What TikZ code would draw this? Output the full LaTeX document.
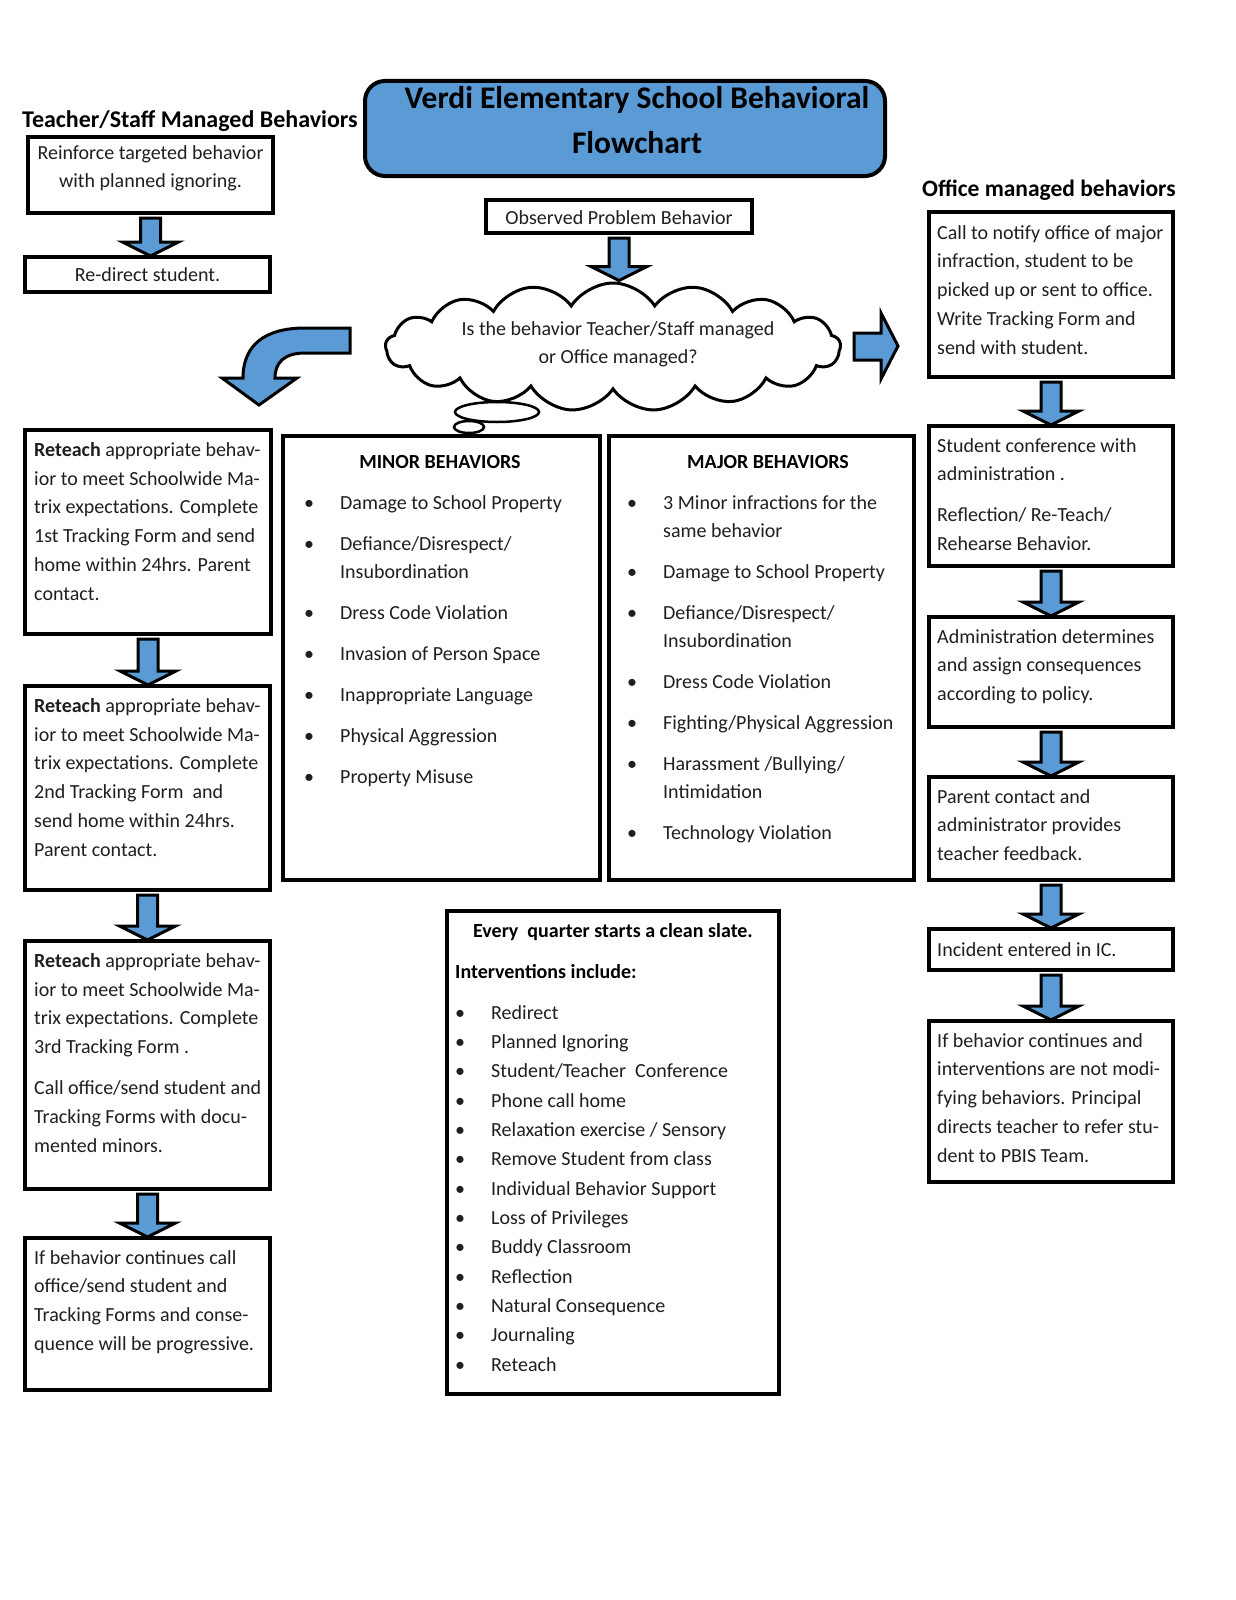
\documentclass[tikz,border=0pt]{standalone}
\usepackage{fontspec}
\setmainfont{Carlito}
\usetikzlibrary{shapes.symbols,calc}
\definecolor{myblue}{HTML}{5B9BD5}
\newcommand\bul{\makebox[36pt][l]{•}}
\newcommand\ind{\makebox[36pt]{}}
\newcommand\darrow[2]{\draw[barrow] let \p1=(#1.south), \p2=(#2.north) in
  (\x1-10pt,\y1-5pt) -- (\x1+10pt,\y1-5pt) -- (\x1+10pt,\y2+15pt) -- (\x1+28pt,\y2+15pt)
  -- (\x1,\y2+1pt) -- (\x1-28pt,\y2+15pt) -- (\x1-10pt,\y2+15pt) -- cycle;}
\begin{document}
\begin{tikzpicture}[x=1pt,y=-1pt,
  box/.style={draw, line width=3.5pt, anchor=north west, inner sep=0pt, outer sep=0pt},
  txt/.style={font=\fontsize{20}{28.8}\selectfont, align=left, inner sep=0pt, anchor=north west, yshift=15pt, text=black!88, execute at begin node={\rule{0pt}{15pt}}},
  ctr/.style={txt, align=center, anchor=north},
  listtxt/.style={txt, font=\fontsize{20}{28}\selectfont},
  head/.style={font=\fontsize{24}{28}\selectfont\bfseries, inner sep=0pt, anchor=base west},
  barrow/.style={draw=black, fill=myblue, line width=3pt, line join=miter},
]
\fill[white] (0,0) rectangle (1236,1600);
\useasboundingbox (0,0) rectangle (1236,1600);

% title
\node[draw, line width=4pt, fill=myblue, rounded corners=20pt, minimum width=520, minimum height=95, inner sep=0pt, anchor=north west] (title) at (363,79) {};
\node[font=\fontsize{31.5}{45}\selectfont\bfseries, align=center, inner sep=0pt, anchor=north, yshift=22pt, execute at begin node={\rule{0pt}{22pt}}] (titletxt) at (637,108) {Verdi Elementary School Behavioral\\Flowchart};

% headers
\node[head] (hleft) at (22,128) {Teacher/Staff Managed Behaviors};
\node[head, font=\fontsize{23.5}{28}\selectfont\bfseries] (hright) at (922,196) {Office managed behaviors};

% top-left boxes
\node[box, minimum width=245, minimum height=76] (B1) at (28,137) {};
\node[ctr] (B1t) at (150.5,160) {Reinforce targeted behavior\\with planned ignoring.};
\node[box, minimum width=245, minimum height=35] (B2) at (25,257) {};
\node[ctr] (B2t) at (147.5,281) {Re-direct student.};
\darrow{B1}{B2}

% observed
\node[box, minimum width=266, minimum height=33] (obs) at (486,200) {};
\node[ctr] (obst) at (619,224) {Observed Problem Behavior};

% cloud
\node[cloud, draw, line width=3pt, cloud puffs=17, cloud puff arc=115, aspect=3.6, minimum width=455, minimum height=128, inner sep=0pt] (cloud) at (613,347) {};
\node[ctr] (cloudt) at (618,336) {Is the behavior Teacher/Staff managed\\or Office managed?};
\draw[line width=2.5pt] (497,412) ellipse [x radius=42pt, y radius=10pt];
\draw[line width=2.5pt] (469,427) ellipse [x radius=15pt, y radius=6pt];
\darrow{obs}{cloud}

% curved arrow
\draw[barrow, line join=miter]
  (350,328) -- (305,328) .. controls (265,328) and (243,345) .. (243,378)
  -- (222,378) -- (259,405) -- (297,378) -- (275,378)
  .. controls (275,362) and (285,353) .. (305,353) -- (350,353) -- cycle;
% right arrow
\draw[barrow]
  (854,333) -- (881,333) -- (881,313) -- (898,346) -- (881,379) -- (881,360) -- (854,360) -- cycle;

% left column
\node[box, minimum width=246, minimum height=204] (L1) at (25,430) {};
\node[txt] (L1t) at (34,457) {\textbf{Reteach} appropriate behav-\\ior to meet Schoolwide Ma-\\trix expectations. Complete\\1st Tracking Form and send\\home within 24hrs. Parent\\contact.};
\node[box, minimum width=245, minimum height=204] (L2) at (25,686) {};
\node[txt] (L2t) at (34,713) {\textbf{Reteach} appropriate behav-\\ior to meet Schoolwide Ma-\\trix expectations. Complete\\2nd Tracking Form\ \ and\\send home within 24hrs.\\Parent contact.};
\node[box, minimum width=245, minimum height=248] (L3) at (25,941) {};
\node[txt] (L3t) at (34,968) {\textbf{Reteach} appropriate behav-\\ior to meet Schoolwide Ma-\\trix expectations. Complete\\3rd Tracking Form .\\[12pt]Call office/send student and\\Tracking Forms with docu-\\mented minors.};
\node[box, minimum width=245, minimum height=152] (L4) at (25,1238) {};
\node[txt] (L4t) at (34,1265) {If behavior continues call\\office/send student and\\Tracking Forms and conse-\\quence will be progressive.};
\darrow{L1}{L2}
\darrow{L2}{L3}
\darrow{L3}{L4}

% minor / major
\node[box, minimum width=317, minimum height=444] (minor) at (283,436) {};
\node[ctr, font=\fontsize{20}{28}\selectfont\bfseries, text=black] (minorh) at (440,468) {MINOR BEHAVIORS};
\node[listtxt] (minorl) at (304,510) {\bul Damage to School Property\\[13pt]\bul Defiance/Disrespect/\\\ind Insubordination\\[13pt]\bul Dress Code Violation\\[13pt]\bul Invasion of Person Space\\[13pt]\bul Inappropriate Language\\[13pt]\bul Physical Aggression\\[13pt]\bul Property Misuse};

\node[box, minimum width=305, minimum height=444] (major) at (609,436) {};
\node[ctr, font=\fontsize{20}{28}\selectfont\bfseries, text=black] (majorh) at (768,468) {MAJOR BEHAVIORS};
\node[listtxt] (majorl) at (627,510) {\bul 3 Minor infractions for the\\\ind same behavior\\[13pt]\bul Damage to School Property\\[13pt]\bul Defiance/Disrespect/\\\ind Insubordination\\[13pt]\bul Dress Code Violation\\[13pt]\bul Fighting/Physical Aggression\\[13pt]\bul Harassment /Bullying/\\\ind Intimidation\\[13pt]\bul Technology Violation};

% interventions
\node[box, minimum width=332, minimum height=483] (interv) at (447,911) {};
\node[ctr, font=\fontsize{20}{28}\selectfont\bfseries, text=black] (intervh) at (613,937) {Every\ \ quarter starts a clean slate.};
\node[txt, font=\fontsize{20}{28}\selectfont\bfseries, text=black] (intervs) at (455,978) {Interventions include:};
\node[txt, font=\fontsize{20}{29.33}\selectfont] (intervl) at (455,1020) {\bul Redirect\\\bul Planned Ignoring\\\bul Student/Teacher\ \ Conference\\\bul Phone call home\\\bul Relaxation exercise / Sensory\\\bul Remove Student from class\\\bul Individual Behavior Support\\\bul Loss of Privileges\\\bul Buddy Classroom\\\bul Reflection\\\bul Natural Consequence\\\bul Journaling\\\bul Reteach};

% right column
\node[box, minimum width=244, minimum height=165] (R1) at (929,212) {};
\node[txt] (R1t) at (937,240) {Call to notify office of major\\infraction, student to be\\picked up or sent to office.\\Write Tracking Form and\\send with student.};
\node[box, minimum width=244, minimum height=140] (R2) at (929,426) {};
\node[txt] (R2t) at (937,453) {Student conference with\\administration .\\[12pt]Reflection/ Re-Teach/\\Rehearse Behavior.};
\node[box, minimum width=244, minimum height=110] (R3) at (929,617) {};
\node[txt] (R3t) at (937,644) {Administration determines\\and assign consequences\\according to policy.};
\node[box, minimum width=244, minimum height=103] (R4) at (929,777) {};
\node[txt] (R4t) at (937,804) {Parent contact and\\administrator provides\\teacher feedback.};
\node[box, minimum width=244, minimum height=41] (R5) at (929,929) {};
\node[txt] (R5t) at (937,956) {Incident entered in IC.};
\node[box, minimum width=244, minimum height=161] (R6) at (929,1021) {};
\node[txt] (R6t) at (937,1048) {If behavior continues and\\interventions are not modi-\\fying behaviors. Principal\\directs teacher to refer stu-\\dent to PBIS Team.};
\darrow{R1}{R2}
\darrow{R2}{R3}
\darrow{R3}{R4}
\darrow{R4}{R5}
\darrow{R5}{R6}
\end{tikzpicture}
\end{document}
